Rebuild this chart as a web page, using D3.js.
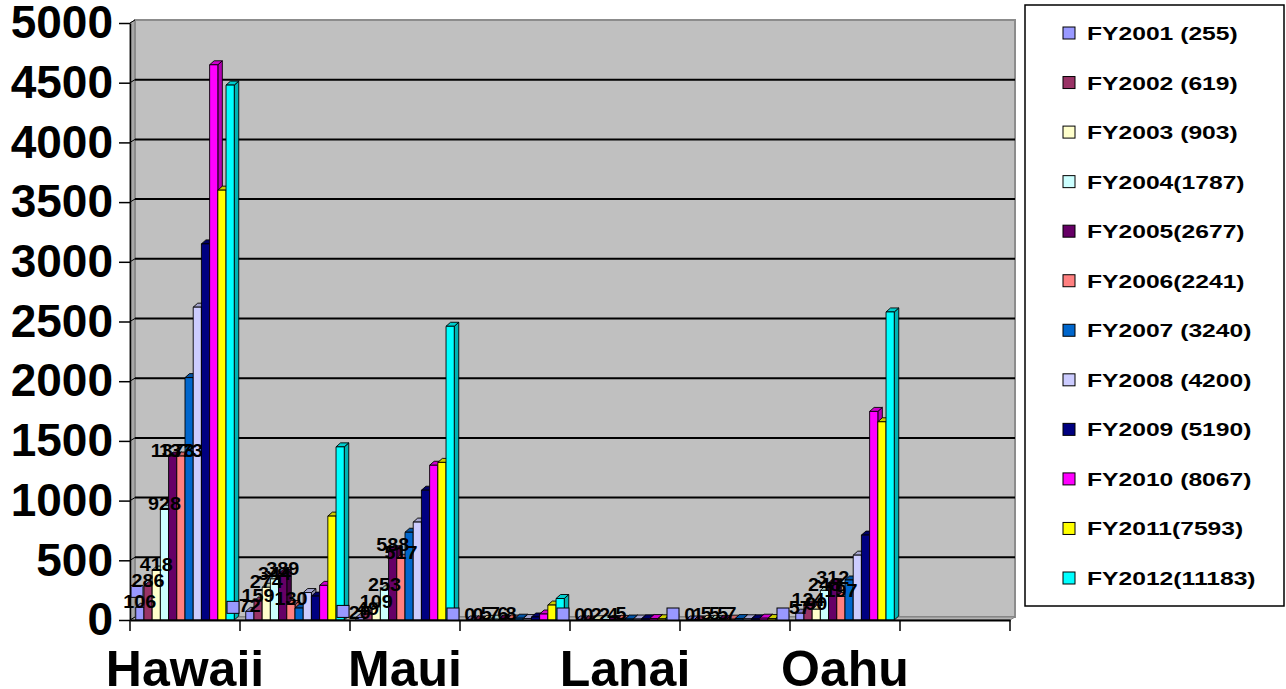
<!DOCTYPE html>
<html>
<head>
<meta charset="utf-8">
<script src="https://cdn.jsdelivr.net/npm/d3@7"></script>
<style>
  body { margin: 0; background: #fff; }
  svg { display: block; font-family: Arial, 'Liberation Sans', sans-serif; }
</style>
</head>
<body>
<div id="chart"></div>
<script>
'use strict';

// Categories. Every second label is skipped by the axis, as in the original.
const islands = ['Hawaii', '', 'Maui', '', 'Lanai', '', 'Oahu', ''];

const seriesNames = [
  'FY2001 (255)', 'FY2002 (619)', 'FY2003 (903)', 'FY2004(1787)',
  'FY2005(2677)', 'FY2006(2241)', 'FY2007 (3240)', 'FY2008 (4200)',
  'FY2009 (5190)', 'FY2010 (8067)', 'FY2011(7593)', 'FY2012(11183)'
];

const seriesColors = [
  '#9999ff', '#993366', '#ffffcc', '#ccffff', '#660066', '#ff8080',
  '#0066cc', '#ccccff', '#000080', '#ff00ff', '#ffff00', '#00ffff'
];

// one array per fiscal year, values by island (null = no data)
const fy2001 = [106, 72, 20, 0, 0, 0, 57, null];
const fy2002 = [286, 159, 49, 0, 0, 1, 124, null];
const fy2003 = [418, 274, 109, 5, 2, 5, 90, null];
const fy2004 = [928, 344, 253, 7, 2, 5, 248, null];
const fy2005 = [1373, 389, 588, 6, 4, 5, 312, null];
const fy2006 = [1373, 130, 517, 8, 5, 7, 197, null];
const fy2007 = [2030, 100, 735, 15, 8, 12, 335, null];
const fy2008 = [2620, 230, 820, 12, 8, 10, 543, null];
const fy2009 = [3150, 200, 1087, 25, 10, 10, 711, null];
const fy2010 = [4650, 290, 1296, 50, 12, 15, 1747, null];
const fy2011 = [3600, 870, 1320, 125, 10, 12, 1660, null];
const fy2012 = [4480, 1450, 2460, 180, 20, 15, 2580, null];

const yTicks = [0, 500, 1000, 1500, 2000, 2500, 3000, 3500, 4000, 4500, 5000];

// data labels are only shown for the first six years
const labelledSeries = 6;

// stray FY2001 label keys: [island index, value]
const keyMarks = [[0, 240], [1, 106], [2, 72], [3, 20], [4, 0], [5, 0], [6, 30]];

const allSeries = [fy2001, fy2002, fy2003, fy2004, fy2005, fy2006,
  fy2007, fy2008, fy2009, fy2010, fy2011, fy2012];

// Sizes and scales
const width = 1286, height = 689;
const plot = { left: 130, right: 1010, top: 23, bottom: 620 };
const wall = { dx: 5, dy: 3 };   // depth of the back wall
const bar = { dx: 4.5, dy: 4 };  // depth of a column

const svg = d3.select('#chart')
  .append('svg')
  .attr('width', width)
  .attr('height', height);

const x = d3.scaleBand()
  .domain(d3.range(islands.length))
  .range([plot.left, plot.right]);

const xs = d3.scaleBand()
  .domain(d3.range(seriesNames.length))
  .range([0, x.bandwidth()])
  .paddingOuter(0.7);

const y = d3.scaleLinear()
  .domain([0, 5000])
  .range([plot.bottom, plot.top]);

// Walls and floor
const poly = pts => 'M' + pts.map(p => p.join(',')).join('L') + 'Z';

svg.append('path')
  .attr('d', poly([[plot.left, plot.bottom], [plot.left, plot.top],
    [plot.left + wall.dx, plot.top - wall.dy], [plot.left + wall.dx, plot.bottom - wall.dy]]))
  .attr('fill', '#a8a8a8')
  .attr('stroke', '#808080');

svg.append('rect')
  .attr('x', plot.left + wall.dx)
  .attr('y', plot.top - wall.dy)
  .attr('width', plot.right - plot.left)
  .attr('height', plot.bottom - plot.top)
  .attr('fill', '#c0c0c0')
  .attr('stroke', '#8c8c8c')
  .attr('stroke-width', 2);

svg.append('path')
  .attr('d', poly([[plot.left, plot.bottom], [plot.right, plot.bottom],
    [plot.right + wall.dx, plot.bottom - wall.dy], [plot.left + wall.dx, plot.bottom - wall.dy]]))
  .attr('fill', '#b4b4b4')
  .attr('stroke', '#808080');

// Gridlines on the back wall
svg.append('g')
  .selectAll('line')
  .data(yTicks.filter(v => v > 0 && v < 5000))
  .join('line')
  .attr('x1', plot.left + wall.dx)
  .attr('x2', plot.right + wall.dx)
  .attr('y1', d => y(d) - wall.dy)
  .attr('y2', d => y(d) - wall.dy)
  .attr('stroke', '#000')
  .attr('stroke-width', 2);

// small diagonal joining each tick to the wall
svg.append('g')
  .selectAll('line')
  .data(yTicks)
  .join('line')
  .attr('x1', plot.left)
  .attr('x2', plot.left + wall.dx)
  .attr('y1', d => y(d))
  .attr('y2', d => y(d) - wall.dy)
  .attr('stroke', '#000')
  .attr('stroke-width', 1);

// Columns
const bars = [];
allSeries.forEach((vals, s) => {
  vals.forEach((v, c) => {
    if (v !== null) bars.push({ c, s, v });
  });
});
bars.sort((a, b) => (a.c - b.c) || (a.s - b.s));

const barG = svg.append('g');
bars.forEach(d => {
  const x0 = x(d.c) + xs(d.s);
  const w = xs.bandwidth();
  const yt = y(d.v);
  const yb = y(0);
  const col = d3.color(seriesColors[d.s]);
  const g = barG.append('g').attr('stroke', '#000').attr('stroke-width', 0.9).attr('stroke-linejoin', 'round');
  g.append('path')
    .attr('d', poly([[x0 + w, yt], [x0 + w + bar.dx, yt - bar.dy], [x0 + w + bar.dx, yb - bar.dy], [x0 + w, yb]]))
    .attr('fill', col.darker(1).formatHex());
  g.append('path')
    .attr('d', poly([[x0, yt], [x0 + bar.dx, yt - bar.dy], [x0 + w + bar.dx, yt - bar.dy], [x0 + w, yt]]))
    .attr('fill', col.darker(0.6).formatHex());
  g.append('rect')
    .attr('x', x0)
    .attr('y', yt)
    .attr('width', w)
    .attr('height', yb - yt)
    .attr('fill', seriesColors[d.s]);
});

// Axes
const yAxis = svg.append('g')
  .attr('transform', `translate(${plot.left},0)`)
  .call(d3.axisLeft(y).tickValues(yTicks).tickFormat(d3.format('d'))
    .tickSize(11).tickSizeOuter(0).tickPadding(6));
yAxis.select('.domain').attr('stroke', '#000').attr('stroke-width', 1.5);
yAxis.selectAll('.tick line').attr('stroke', '#000').attr('stroke-width', 1.5);
yAxis.selectAll('text')
  .attr('fill', '#000')
  .style('font-size', '46px')
  .style('font-weight', 'bold')
  .style('font-family', "Arial, 'Liberation Sans', sans-serif");

const xAxis = svg.append('g')
  .attr('transform', `translate(0,${plot.bottom})`)
  .call(d3.axisBottom(x).tickSize(0).tickPadding(30).tickFormat(i => islands[i]));
xAxis.select('.domain').attr('stroke', '#000').attr('stroke-width', 2);
xAxis.selectAll('text')
  .attr('fill', '#000')
  .style('font-size', '50px')
  .style('font-weight', 'bold')
  .style('font-family', "Arial, 'Liberation Sans', sans-serif");

// tick marks between categories
xAxis.append('g')
  .selectAll('line')
  .data(d3.range(islands.length + 1))
  .join('line')
  .attr('x1', i => i < islands.length ? x(i) : x.range()[1])
  .attr('x2', i => i < islands.length ? x(i) : x.range()[1])
  .attr('y1', 0)
  .attr('y2', 11)
  .attr('stroke', '#000')
  .attr('stroke-width', 1.5);

// stray label keys
svg.append('g')
  .selectAll('rect')
  .data(keyMarks)
  .join('rect')
  .attr('x', d => (d[0] === 0 ? x(d[0]) + 7 : x(d[0]) - 7) - 6)
  .attr('y', d => Math.min(y(d[1]), y(0) - 6) - 6)
  .attr('width', 12)
  .attr('height', 12)
  .attr('fill', seriesColors[0])
  .attr('stroke', '#000')
  .attr('stroke-width', 1);

// Data labels
const labelG = svg.append('g')
  .style('font-size', '18px')
  .style('font-weight', 'bold')
  .attr('fill', '#000')
  .attr('text-anchor', 'middle');
bars.filter(d => d.s < labelledSeries).forEach(d => {
  const cx = x(d.c) + xs(d.s) + xs.bandwidth() / 2;
  labelG.append('text')
    .attr('transform', `translate(${cx},${y(d.v) + 1}) scale(1.1,1)`)
    .text(d.v);
});

// Legend
const legend = svg.append('g');
legend.append('rect')
  .attr('x', 1025)
  .attr('y', 5)
  .attr('width', 259)
  .attr('height', 601)
  .attr('fill', '#fff')
  .attr('stroke', '#000')
  .attr('stroke-width', 1.5);

const ly = d3.scalePoint().domain(d3.range(seriesNames.length)).range([33, 578]);
const items = legend.selectAll('.item')
  .data(seriesNames)
  .join('g')
  .attr('class', 'item')
  .attr('transform', (d, i) => `translate(1063,${ly(i)})`);
items.append('rect')
  .attr('x', 0)
  .attr('y', -6)
  .attr('width', 12)
  .attr('height', 12)
  .attr('fill', (d, i) => seriesColors[i])
  .attr('stroke', '#000')
  .attr('stroke-width', 1);
items.append('text')
  .attr('transform', 'translate(24,7) scale(1.37,1)')
  .style('font-size', '18px')
  .style('font-weight', 'bold')
  .text(d => d);
</script>
</body>
</html>
